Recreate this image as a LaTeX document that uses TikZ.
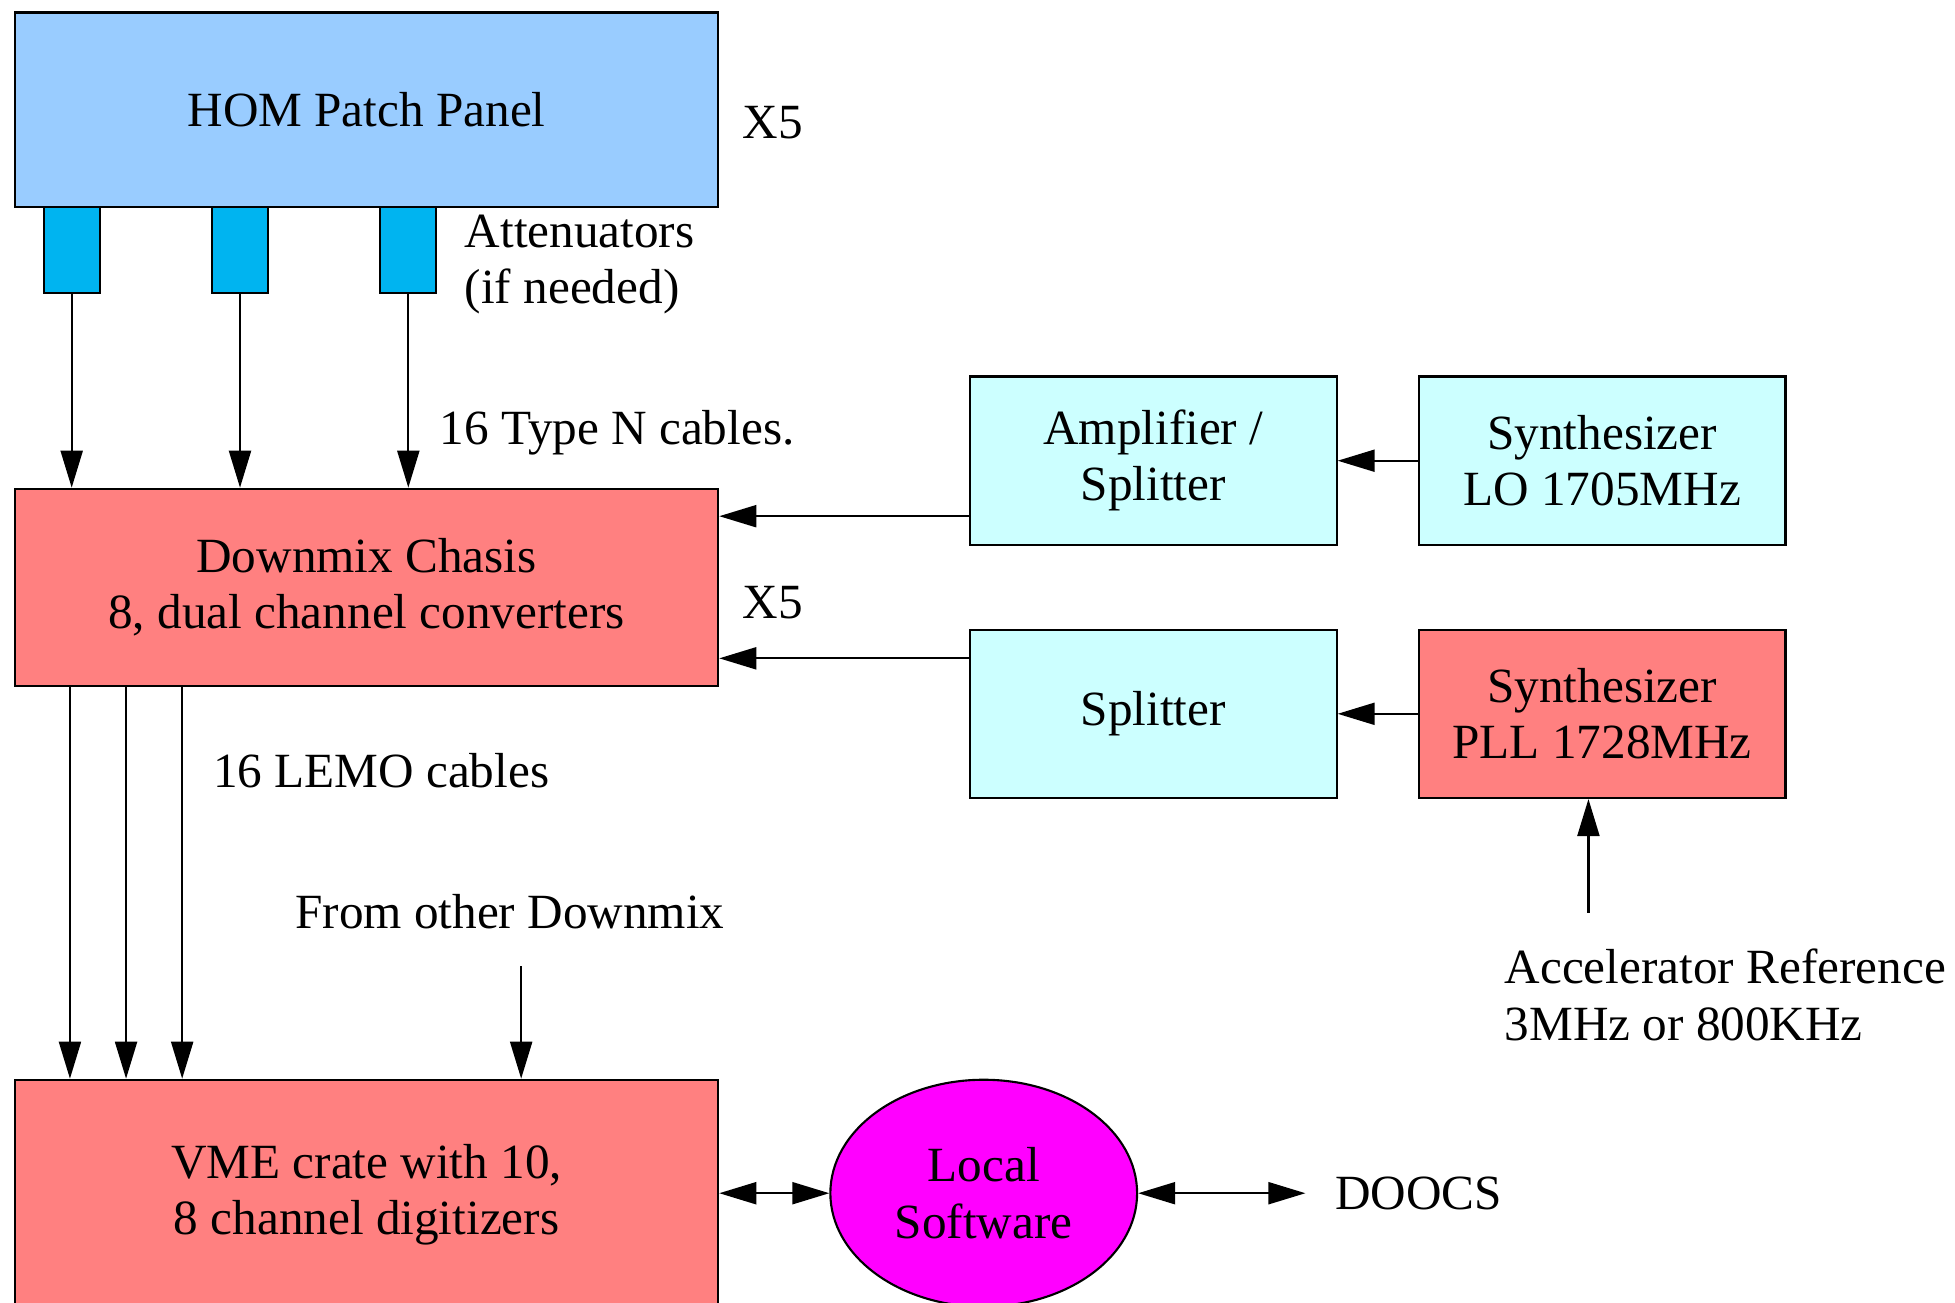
\documentclass[tikz,border=0pt]{standalone}
\usepackage{fontspec}
\setmainfont{Liberation Serif}
\usetikzlibrary{arrows.meta,shapes.geometric,calc}
\definecolor{panelblue}{HTML}{99CCFF}
\definecolor{attblue}{HTML}{00B4F0}
\definecolor{chasisred}{HTML}{FF8080}
\definecolor{splitcyan}{HTML}{CCFFFF}
\definecolor{softmag}{HTML}{FF00FF}
\begin{document}
\begin{tikzpicture}[x=0.012468cm,y=-0.012468cm,line width=0.6pt,
    font=\fontsize{14}{16}\selectfont,
    >={Triangle[length=0.37cm,width=0.22cm]},
    wide/.style={draw,align=center,inner sep=0pt,minimum width=7.032cm},
    unit/.style={draw,align=center,inner sep=0pt,minimum width=3.666cm,minimum height=1.683cm},
    attbox/.style={draw,fill=attblue,minimum width=0.561cm,minimum height=0.860cm,inner sep=0pt},
    lbl/.style={anchor=west,align=left,inner sep=0pt},
    arr/.style={->},
    dbl/.style={<->}]
    \useasboundingbox (0,0) rectangle (1568,1045);
    \node[wide,fill=panelblue,minimum height=1.945cm] (hom) at (294,88) {HOM Patch Panel};
    \foreach \n/\x in {1/57.5,2/192.5,3/327.5}
    \node[attbox] (att\n) at (\x,200.5) {};
    \node[wide,fill=chasisred,minimum height=1.970cm] (down) at (294,471) {Downmix Chasis\\8, dual channel converters};
    \node[wide,fill=chasisred,minimum height=2.294cm] (vme) at (294,958) {VME crate with 10,\\8 channel digitizers};
    \node[unit,fill=splitcyan] (amp) at (925,369.5) {Amplifier /\\Splitter};
    \node[unit,fill=splitcyan] (lo) at (1285,369.5) {Synthesizer\\LO 1705MHz};
    \node[unit,fill=splitcyan] (split) at (925,572.5) {Splitter};
    \node[unit,fill=chasisred] (pll) at (1285,572.5) {Synthesizer\\PLL 1728MHz};
    \node[draw,ellipse,fill=softmag,align=center,inner sep=0pt,minimum width=3.067cm,minimum height=2.269cm] (soft) at (789,957) {Local\\Software};
    \node (x5a) at (620,98) {X5};
    \node (x5b) at (620,483) {X5};
    \node[lbl] (attlbl) at (372,212) {Attenuators\\(if needed)};
    \node[lbl] (typen) at (352,347) {16 Type N cables.};
    \node[lbl] (lemo) at (170,618) {16 LEMO cables};
    \node[lbl] (other) at (236,731) {From other Downmix};
    \node[lbl] (accref) at (1206,798) {Accelerator Reference\\3MHz or 800KHz};
    \node[lbl] (doocs) at (1070,957) {DOOCS};
    \coordinate (oth) at (418,775);
    \coordinate (acc) at (1274,732);
    \coordinate (doocsend) at (1047,957);
    \coordinate (lofeed) at ($(amp.west)+(0,44.5)$);
    \coordinate (pllfeed) at ($(split.west)+(0,-44.5)$);
    \foreach \n in {1,2,3}
    \draw[arr] (att\n.south) -- (att\n.south |- down.north);
    \foreach \dx in {45,90,135}
    \draw[arr] ($(down.south west)+(\dx,0)$) -- ($(vme.north west)+(\dx,0)$);
    \draw[arr] (oth) -- (oth |- vme.north);
    \draw[arr] (lo.west) -- (amp.east);
    \draw[arr] (pll.west) -- (split.east);
    \draw[arr] (lofeed) -- (lofeed -| down.east);
    \draw[arr] (pllfeed) -- (pllfeed -| down.east);
    \draw[arr] (acc) -- (acc |- pll.south);
    \draw[dbl] (soft.west -| vme.east) -- (soft.west);
    \draw[dbl] (soft.east) -- (doocsend);
\end{tikzpicture}
\end{document}
